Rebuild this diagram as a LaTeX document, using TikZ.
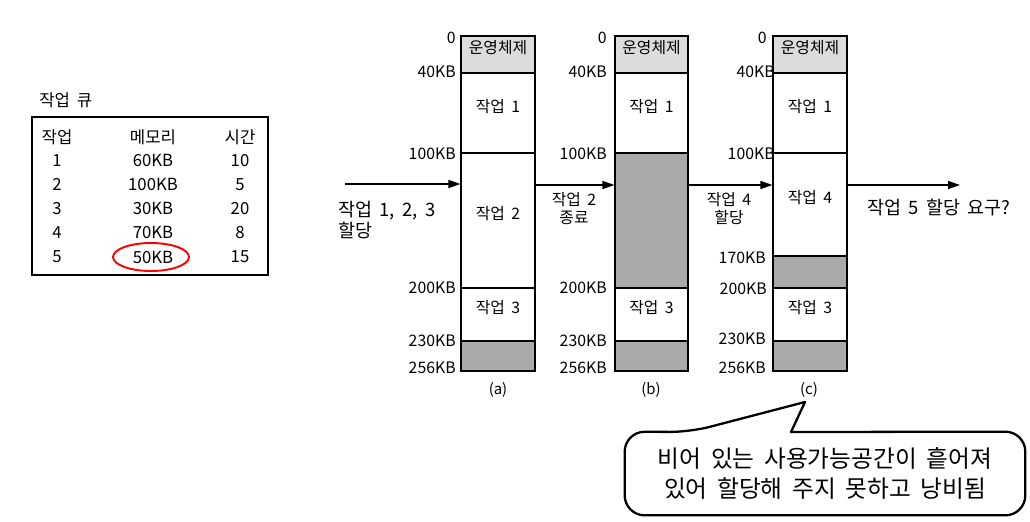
\documentclass[tikz,border=0pt]{standalone}
\usepackage{fontspec}
\setmainfont[WordSpace=1.8]{Noto Sans CJK KR}
\usetikzlibrary{arrows.meta,fit,positioning,shapes.geometric}
\definecolor{freegray}{RGB}{170,170,170}
\definecolor{osgray}{RGB}{220,220,220}

\begin{document}
\begin{tikzpicture}[
		x=0.02cm, y=-0.02cm,
		seg/.style={rectangle, draw=black, line width=0.6pt, inner sep=0pt, fill=white, font=\fontsize{9}{11}\selectfont},
		free/.style={seg, fill=freegray},
		os/.style={seg, fill=osgray},
		adr/.style={anchor=east, inner sep=0pt, font=\fontsize{9}{11}\selectfont},
		cell/.style={inner sep=0pt, font=\fontsize{9.5}{11}\selectfont},
		small/.style={inner sep=0pt, align=center, font=\fontsize{9}{10.2}\selectfont},
		big/.style={inner sep=0pt, align=left, anchor=west, font=\fontsize{10.5}{12.3}\selectfont},
		sub/.style={inner sep=0pt, font=\fontsize{8.5}{10}\selectfont},
		note/.style={inner sep=0pt, minimum width=8cm, minimum height=1.66cm, align=center, font=\fontsize{13.5}{17}\selectfont},
		arrow/.style={line width=0.8pt, -{Triangle[length=2.4mm, width=1.6mm]}}
		]
		\useasboundingbox (0,0) rectangle (1030,521);
		
		\node (title) at (39,100) [cell, anchor=west] {작업 큐};
		\node (queue) [fit={(32,117) (268,275)}, draw, inner sep=0pt, line width=0.6pt] {};
		\node (hjob) at (57,137) [cell] {작업};
		\node (hmem) at (153,137) [cell] {메모리};
		\node (htim) at (240,137) [cell] {시간};
		\foreach \job/\mem/\tim [count=\i] in {1/60KB/10, 2/100KB/5, 3/30KB/20, 4/70KB/8, 5/50KB/15} {
			\node (j\i) at (57,136+24.2*\i) [cell] {\job};
			\node (m\i) at (153,136+24.2*\i) [cell] {\mem};
			\node (t\i) at (240,136+24.2*\i) [cell] {\tim};
		}
		\node (pick) at (151,257) [ellipse, draw=red, line width=1.1pt, minimum width=1.52cm, minimum height=0.56cm] {};
		
		\node (a0) [os, fit={(461,36) (535,73)}] {운영체제};
		\node (a1) [seg, fit={(461,73) (535,153)}] {작업 1};
		\node (a2) [seg, fit={(461,153) (535,288)}] {작업 2};
		\node (a3) [seg, fit={(461,288) (535,341)}] {작업 3};
		\node (a4) [free, fit={(461,341) (535,371)}] {};
		
		\node (b0) [os, fit={(615,36) (688,73)}] {운영체제};
		\node (b1) [seg, fit={(615,73) (688,153)}] {작업 1};
		\node (b2) [free, fit={(615,153) (688,288)}] {};
		\node (b3) [seg, fit={(615,288) (688,341)}] {작업 3};
		\node (b4) [free, fit={(615,341) (688,371)}] {};
		
		\node (c0) [os, fit={(773,36) (847,73)}] {운영체제};
		\node (c1) [seg, fit={(773,73) (847,153)}] {작업 1};
		\node (c2) [seg, fit={(773,153) (847,256)}] {작업 4};
		\node (c5) [free, fit={(773,256) (847,288)}] {};
		\node (c3) [seg, fit={(773,288) (847,341)}] {작업 3};
		\node (c4) [free, fit={(773,341) (847,371)}] {};
		
		\foreach \col/\xr in {a/456, b/607} {
			\foreach \adr/\y in {0/38, 40KB/72, 100KB/154, 200KB/288, 230KB/341, 256KB/368}
				\node (\col-\adr) at (\xr,\y) [adr] {\adr};
		}
		\node (c-0) at (767,38) [adr] {0};
		\node (c-40KB) at (775,72) [adr] {40KB};
		\node (c-100KB) at (775,154) [adr] {100KB};
		\node (c-170KB) at (766,258) [adr] {170KB};
		\node (c-200KB) at (767,289) [adr] {200KB};
		\node (c-230KB) at (766,339) [adr] {230KB};
		\node (c-256KB) at (766,368) [adr] {256KB};
		
		\node (suba) at (498,390) [sub] {(a)};
		\node (subb) at (651,390) [sub] {(b)};
		\node (subc) at (809,390) [sub] {(c)};
		
		\coordinate (lvl) at (0,185);
		\coordinate (in) at (345,184);
		\coordinate (out) at (960,185);
		\draw [arrow] (in) -- (a2.west |- in);
		\draw [arrow] (a2.east |- lvl) -- (b2.west |- lvl);
		\draw [arrow] (b2.east |- lvl) -- (c2.west |- lvl);
		\draw [arrow] (c2.east |- lvl) -- (out);
		
		\node (load) at (338,220) [big] {작업 1, 2, 3\\할당};
		\node (done) at (574,209) [small] {작업 2\\종료};
		\node (alloc) at (729,209) [small] {작업 4\\할당};
		\node (ask) at (867,208) [big] {작업 5 할당 요구?};
		
		\node (msg) at (825,473.5) [note] {비어 있는 사용가능공간이 흩어져\\있어 할당해 주지 못하고 낭비됨};
		\coordinate (pl) at (690,432);
		\coordinate (pr) at (791,432);
		\coordinate (tip) at (805,402);
		\draw [line width=1.3pt, line join=round] (pr) [rounded corners=0.4cm] -- (msg.north east) -- (msg.south east) -- (msg.south west) -- (msg.north west) -- (pl) [sharp corners] -- (tip) -- cycle;
	\end{tikzpicture}
\end{document}
